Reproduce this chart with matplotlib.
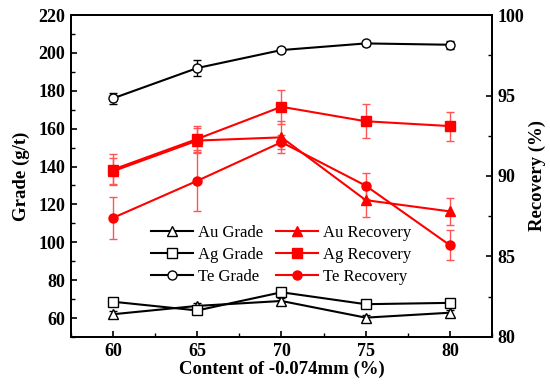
import matplotlib
matplotlib.use("Agg")
import matplotlib.pyplot as plt
from matplotlib.ticker import MultipleLocator
from matplotlib.lines import Line2D

plt.rcParams['font.family'] = ['Liberation Serif', 'DejaVu Serif']
plt.rcParams['mathtext.fontset'] = 'stix'

x = [60, 65, 70, 75, 80]

au_grade = [62.0, 66.4, 69.0, 60.2, 62.8]
au_grade_err = [1.5, 1.5, 1.5, 1.5, 1.5]
ag_grade = [68.6, 64.0, 73.6, 67.3, 68.0]
ag_grade_err = [1.0, 1.0, 1.5, 1.0, 1.0]
te_grade = [176.0, 192.0, 201.5, 205.0, 204.3]
te_grade_err = [2.8, 4.0, 1.2, 1.2, 2.0]

au_rec = [90.3, 92.2, 92.4, 88.5, 87.8]
au_rec_err = [0.8, 0.8, 1.0, 1.05, 0.85]
ag_rec = [90.4, 92.3, 94.3, 93.4, 93.1]
ag_rec_err = [0.95, 0.8, 1.05, 1.05, 0.9]
te_rec = [87.4, 89.7, 92.1, 89.4, 85.7]
te_rec_err = [1.3, 1.9, 0.45, 0.8, 0.95]

labels = ['Au Grade', 'Ag Grade', 'Te Grade', 'Au Recovery', 'Ag Recovery', 'Te Recovery']

fig = plt.figure(figsize=(5.5, 3.9), dpi=100)
ax = fig.add_axes([0.129, 0.136, 0.7655, 0.8255])
ax2 = ax.twinx()

mkw = dict(markersize=6.5, linewidth=1.5, capsize=3, elinewidth=1.0, capthick=1.0)

ax.errorbar(x, au_grade, yerr=au_grade_err, color='black', marker='^',
            markerfacecolor='white', markeredgecolor='black', **mkw)
ax.errorbar(x, ag_grade, yerr=ag_grade_err, color='black', marker='s',
            markerfacecolor='white', markeredgecolor='black', **mkw)
ax.errorbar(x, te_grade, yerr=te_grade_err, color='black', marker='o',
            markerfacecolor='white', markeredgecolor='black', **mkw)

ekw = dict(ecolor='#ff5555')
ax2.errorbar(x, au_rec, yerr=au_rec_err, color='red', marker='^', **mkw, **ekw)
ax2.errorbar(x, ag_rec, yerr=ag_rec_err, color='red', marker='s', **mkw, **ekw)
ax2.errorbar(x, te_rec, yerr=te_rec_err, color='red', marker='o', **mkw, **ekw)

ax.set_xlim(57.5, 82.5)
ax.set_ylim(50, 220)
ax2.set_ylim(80, 100)

ax.xaxis.set_major_locator(MultipleLocator(5))
ax.xaxis.set_minor_locator(MultipleLocator(2.5))
ax.yaxis.set_major_locator(MultipleLocator(20))
ax.yaxis.set_minor_locator(MultipleLocator(10))
ax2.yaxis.set_major_locator(MultipleLocator(5))
ax2.yaxis.set_minor_locator(MultipleLocator(2.5))

for a in (ax, ax2):
    a.tick_params(which='major', direction='in', length=4.5, width=1.2, labelsize=13, pad=4)
    a.tick_params(which='minor', direction='in', length=3, width=1.0)
    for s in a.spines.values():
        s.set_linewidth(1.3)
ax.tick_params(axis='x', which='both', top=False)
for lab in ax.get_xticklabels() + ax.get_yticklabels() + ax2.get_yticklabels():
    lab.set_fontweight('bold')

ax.set_xlabel('Content of -0.074mm (%)', fontsize=13.5, fontweight='bold', labelpad=1)
ax.set_ylabel('Grade (g/t)', fontsize=13.5, fontweight='bold', labelpad=6)
ax2.set_ylabel('Recovery (%)', fontsize=13.5, fontweight='bold', labelpad=3)

handles = [
    Line2D([], [], color='black', marker='^', markerfacecolor='white', markersize=6.5, linewidth=1.5),
    Line2D([], [], color='black', marker='s', markerfacecolor='white', markersize=6.5, linewidth=1.5),
    Line2D([], [], color='black', marker='o', markerfacecolor='white', markersize=6.5, linewidth=1.5),
    Line2D([], [], color='red', marker='^', markersize=6.5, linewidth=1.5),
    Line2D([], [], color='red', marker='s', markersize=6.5, linewidth=1.5),
    Line2D([], [], color='red', marker='o', markersize=6.5, linewidth=1.5),
]
leg = ax2.legend(handles=handles, labels=labels, ncol=2, frameon=False, fontsize=12,
                 loc='center left', bbox_to_anchor=(0.17, 0.255), handlelength=2.5,
                 handletextpad=0.3, columnspacing=0.8, labelspacing=0.38, borderpad=0)

fig.savefig('out.png', dpi=100)
